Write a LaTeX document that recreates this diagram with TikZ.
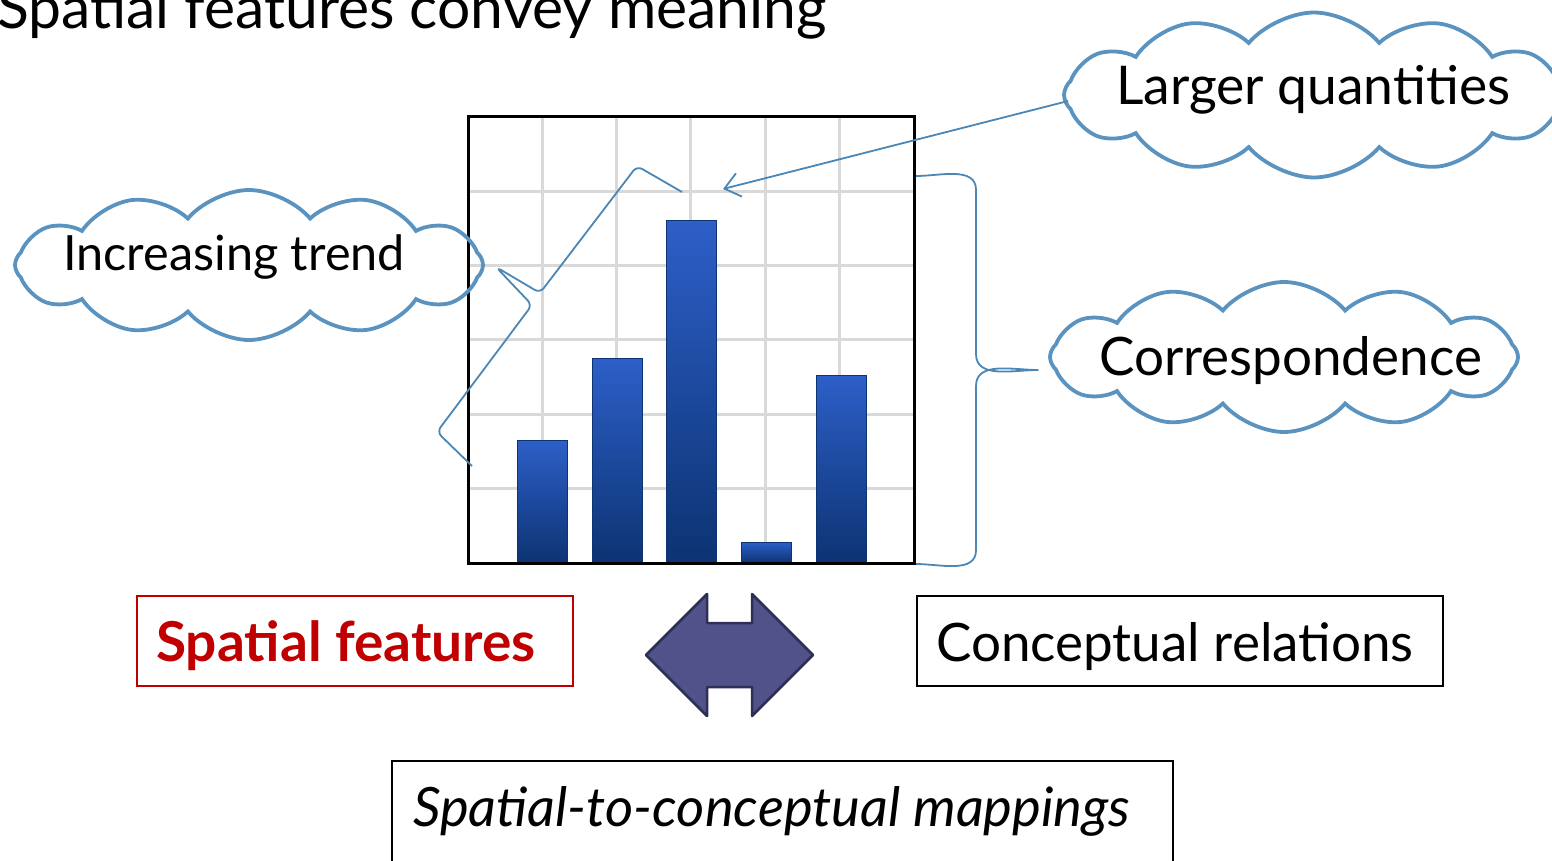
\documentclass[tikz,border=0pt]{standalone}
\usepackage{fontspec}
\setmainfont{Lato}
\usetikzlibrary{shapes.symbols,arrows.meta}
\definecolor{cloudblue}{HTML}{5A93BF}
\definecolor{braceblue}{HTML}{4A87B6}
\definecolor{gridgray}{HTML}{D9D9D9}
\definecolor{bartop}{HTML}{2D5FC8}
\definecolor{barbot}{HTML}{0C3372}
\definecolor{arrowfill}{HTML}{52528A}
\definecolor{arrowline}{HTML}{2F2F55}
\definecolor{sfred}{HTML}{C00000}
\begin{document}
\begin{tikzpicture}[x=1pt,y=-1pt,
  cloudshape/.style={cloud, cloud puffs=12, cloud puff arc=100, cloud ignores aspect, draw=cloudblue, line width=3.8pt, inner sep=0pt},
  bracepath/.style={draw=braceblue, line width=1.8pt, line join=round},
  bar/.style={top color=bartop, bottom color=barbot, draw=barbot, line width=0.6pt},
  txt/.style={anchor=base west, inner sep=0pt},
  framebox/.style={draw, line width=1.8pt, inner sep=0pt, anchor=north west},
]
\useasboundingbox (0,0) rectangle (1552,861);
\begin{scope}
\clip (0,0) rectangle (1552,861);

% title
\node[txt, font=\fontsize{58.8}{68}\selectfont] (title) at (-3,29) {Spatial features convey meaning};

% chart
\fill[white] (468,117) rectangle (914,563);
\foreach \k in {1,...,5} {
  \draw[gridgray, line width=3pt] ({468+74.33*\k},117) -- ({468+74.33*\k},563);
  \draw[gridgray, line width=3pt] (468,{117+74.33*\k}) -- (914,{117+74.33*\k});
}
\path[bar] (517,440) rectangle (567,563);
\path[bar] (592,358) rectangle (642,563);
\path[bar] (666,220) rectangle (716,563);
\path[bar] (741,542) rectangle (791,563);
\path[bar] (816,375) rectangle (866,563);
\draw[black, line width=3pt] (468,117) rectangle (914,563);

% clouds
\node[cloudshape, minimum width=468pt, minimum height=150pt] (itcloud) at (249,265) {};
\node[cloudshape, minimum width=500pt, minimum height=165pt] (lqcloud) at (1314,95) {};
\node[cloudshape, minimum width=468pt, minimum height=150pt] (cocloud) at (1284,357) {};

\node[txt, font=\fontsize{48.6}{58}\selectfont] (ittext) at (63,270) {Increasing trend};
\node[txt, font=\fontsize{53.4}{62}\selectfont] (lqtext) at (1116,105) {Larger quantities};
\node[txt, font=\fontsize{53}{62}\selectfont] (cotext) at (1099,375) {Correspondence};

% braces
\draw[bracepath, rounded corners=6pt] (472,466) -- (437,432) -- (532,305) -- (496,267) -- (540,293) -- (637,166) -- (682,192);
\draw[bracepath] (916,176) to[out=0,in=90] (976,190) -- (976,354) to[out=-90,in=180] (1038,370)
  to[out=180,in=90] (976,386) -- (976,550) to[out=-90,in=0] (916,564);

% arrow to tallest bar
\coordinate (lqtip) at (723,189);
\draw[draw=braceblue, line width=1.8pt, -{Straight Barb[length=15pt,width=24pt]}] (lqcloud.west) ++(6,6) -- (lqtip);

% boxes
\node[framebox, draw=sfred, minimum width=436pt, minimum height=90pt] (sfbox) at (136,595) {};
\node[txt, font=\bfseries\fontsize{55}{64}\selectfont, text=sfred] (sftext) at (156,661) {Spatial features};
\node[framebox, minimum width=526pt, minimum height=90pt] (crbox) at (916,595) {};
\node[txt, font=\fontsize{53}{62}\selectfont] (crtext) at (936,661) {Conceptual relations};
\node[framebox, minimum width=781pt, minimum height=130pt] (mapbox) at (391,760) {};
\node[txt, font=\itshape\fontsize{54.3}{63}\selectfont] (maptext) at (413,826) {Spatial-to-conceptual mappings};

% double arrow
\draw[fill=arrowfill, draw=arrowline, line width=2.5pt, line join=round]
  (646,655) -- (707,594) -- (707,623) -- (752,623) -- (752,594) -- (813,655)
  -- (752,716) -- (752,687) -- (707,687) -- (707,716) -- cycle;
\end{scope}
\end{tikzpicture}
\end{document}
